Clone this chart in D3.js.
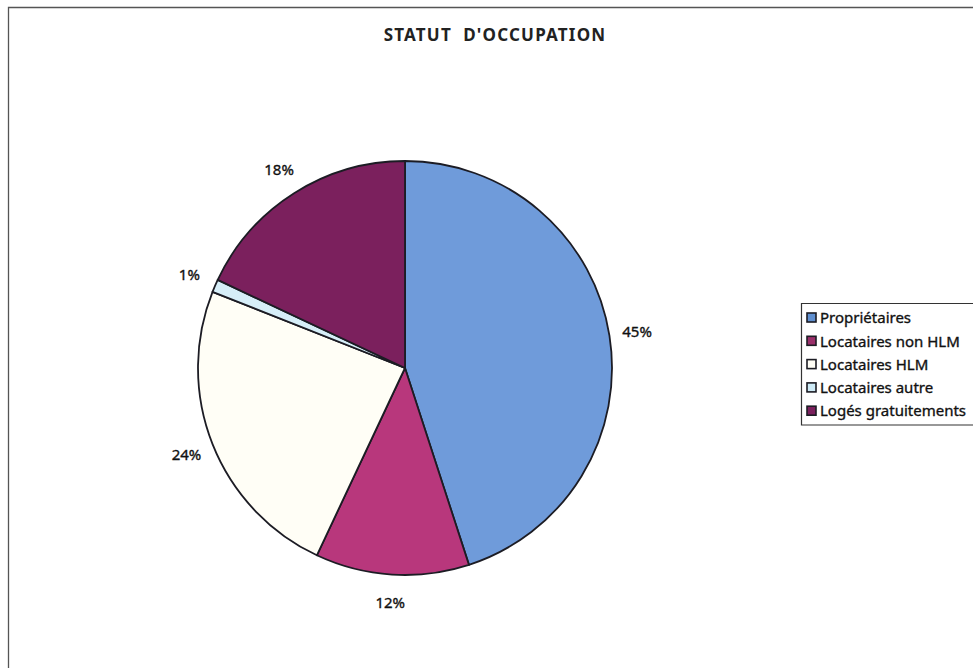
<!DOCTYPE html>
<html>
<head>
<meta charset="utf-8">
<script src="https://cdn.jsdelivr.net/npm/d3@7"></script>
<style>
  html, body { margin: 0; padding: 0; background: #fff; }
  svg { display: block; }
  text { font-family: "Noto Sans", "DejaVu Sans", sans-serif; fill: #111; }
  text.body { stroke: #111; stroke-width: 0.35px; }
</style>
</head>
<body>
<svg id="chart" width="973" height="668"></svg>
<script>
// Housing tenure shares (%)
const categories = ["Propriétaires", "Locataires non HLM", "Locataires HLM", "Locataires autre", "Logés gratuitements"];
const values = [45, 12, 24, 1, 18];
const labels = ["45%", "12%", "24%", "1%", "18%"];
const colors = ["#6f9bda", "#b8377c", "#fffef6", "#d6eef8", "#7b205d"];
const swatchColors = ["#5f8fd0", "#9a2f6a", "#fffef6", "#cdeaf6", "#7b205d"];

const svg = d3.select("#chart");

// Outer frame
svg.append("path")
  .attr("d", "M8.5,668 L8.5,7.5 L973,7.5")
  .attr("fill", "none")
  .attr("stroke", "#555")
  .attr("stroke-width", 1.3);

// Title
svg.append("text")
  .attr("x", 495).attr("y", 41)
  .attr("text-anchor", "middle")
  .attr("font-size", 17)
  .attr("font-weight", "bold")
  .attr("letter-spacing", 1.2)
  .style("white-space", "pre")
  .style("fill", "#222")
  .text("STATUT  D'OCCUPATION");

const cx = 405, cy = 368, r = 207;
const pie = d3.pie().sort(null).value(d => d.v)
  .startAngle(0).endAngle(2 * Math.PI);
const data = pie(values.map((v, i) => ({ v, i })));
const arc = d3.arc().innerRadius(0).outerRadius(r);

const g = svg.append("g").attr("transform", `translate(${cx},${cy})`);
g.selectAll("path.slice")
  .data(data)
  .join("path")
  .attr("class", "slice")
  .attr("d", arc)
  .attr("fill", d => colors[d.data.i])
  .attr("stroke", "#1c1c24")
  .attr("stroke-width", 1.8)
  .attr("stroke-linejoin", "round");

// Percentage labels outside the pie
const labelArc = d3.arc().innerRadius(r + 28).outerRadius(r + 28);
g.selectAll("text.pct")
  .data(data)
  .join("text")
  .attr("class", "pct body")
  .attr("x", d => labelArc.centroid(d)[0])
  .attr("y", d => labelArc.centroid(d)[1])
  .attr("dy", "0.35em")
  .attr("text-anchor", "middle")
  .attr("font-size", 15)
  .text(d => labels[d.data.i]);

// Legend
const lg = svg.append("g").attr("transform", "translate(801,303)");
lg.append("path")
  .attr("d", "M972,0.5 L0.5,0.5 L0.5,122 L172,122")
  .attr("fill", "none")
  .attr("stroke", "#333")
  .attr("stroke-width", 1.2);
const rows = lg.selectAll("g.row")
  .data(categories)
  .join("g")
  .attr("class", "row")
  .attr("transform", (d, i) => `translate(6,${15 + i * 23.3})`);
rows.append("rect")
  .attr("x", 0).attr("y", -5)
  .attr("width", 9).attr("height", 9)
  .attr("fill", (d, i) => swatchColors[i])
  .attr("stroke", "#1c1c24")
  .attr("stroke-width", 1.6);
rows.append("text")
  .attr("class", "body")
  .attr("x", 13).attr("y", 0)
  .attr("dy", "0.35em")
  .attr("font-size", 15)
  .text(d => d);
</script>
</body>
</html>
